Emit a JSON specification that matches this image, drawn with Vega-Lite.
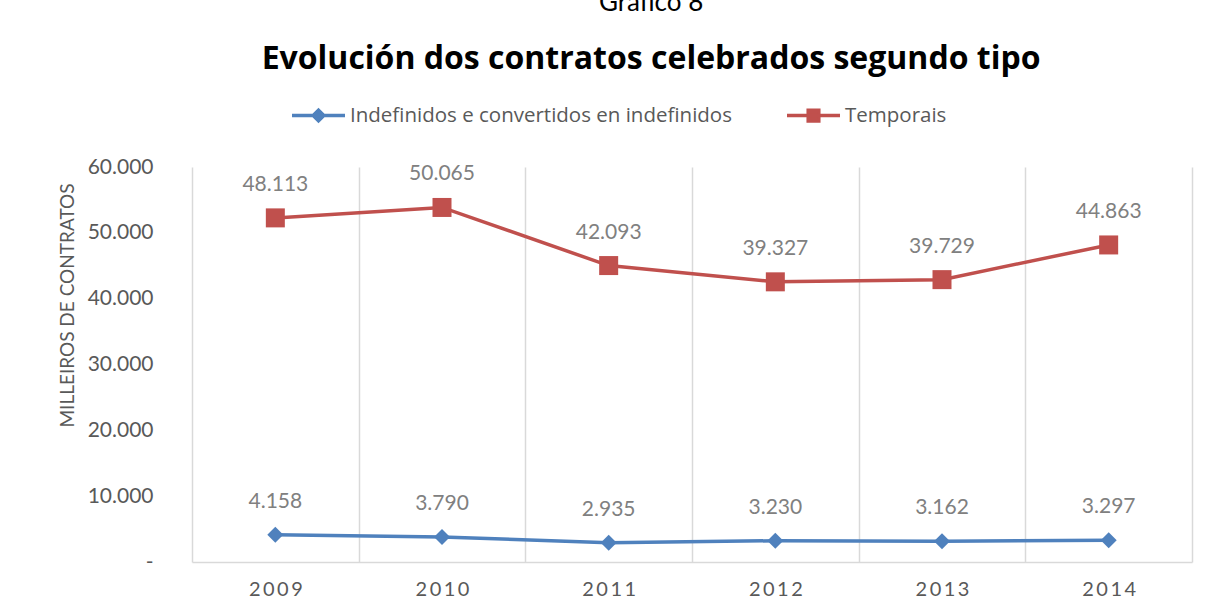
{
  "$schema": "https://vega.github.io/schema/vega-lite/v6.json",
  "width": 1000,
  "height": 395,
  "autosize": {"type": "none"},
  "padding": {"left": 192, "top": 167, "right": 17, "bottom": 50},
  "background": "white",
  "config": {
    "locale": {"number": {"decimal": ",", "thousands": ".", "grouping": [3], "currency": ["", " €"]}},
    "font": "Lato",
    "view": {"stroke": null}
  },
  "title": {
    "text": "Gráfico 8",
    "subtitle": "Evolución dos contratos celebrados segundo tipo",
    "anchor": "middle",
    "frame": "bounds",
    "dx": 26,
    "font": "Lato",
    "fontSize": 26,
    "fontWeight": "normal",
    "color": "black",
    "subtitleFont": "Open Sans",
    "subtitleFontSize": 32,
    "subtitleFontWeight": "bold",
    "subtitleColor": "black",
    "subtitlePadding": 28,
    "offset": 12
  },
  "data": {
    "values": [
      {"ano": "2009", "serie": "Indefinidos e convertidos en indefinidos", "contratos": 4158},
      {"ano": "2010", "serie": "Indefinidos e convertidos en indefinidos", "contratos": 3790},
      {"ano": "2011", "serie": "Indefinidos e convertidos en indefinidos", "contratos": 2935},
      {"ano": "2012", "serie": "Indefinidos e convertidos en indefinidos", "contratos": 3230},
      {"ano": "2013", "serie": "Indefinidos e convertidos en indefinidos", "contratos": 3162},
      {"ano": "2014", "serie": "Indefinidos e convertidos en indefinidos", "contratos": 3297},
      {"ano": "2009", "serie": "Temporais", "contratos": 48113},
      {"ano": "2010", "serie": "Temporais", "contratos": 50065},
      {"ano": "2011", "serie": "Temporais", "contratos": 42093},
      {"ano": "2012", "serie": "Temporais", "contratos": 39327},
      {"ano": "2013", "serie": "Temporais", "contratos": 39729},
      {"ano": "2014", "serie": "Temporais", "contratos": 44863}
    ]
  },
  "encoding": {
    "x": {
      "field": "ano",
      "type": "ordinal",
      "bandPosition": 0.5,
      "scale": {"type": "band", "paddingInner": 0, "paddingOuter": 0},
      "axis": {
        "title": null,
        "labelAngle": 0,
        "labelFont": "Lato",
        "labelFontSize": 20,
        "labelColor": "#595959",
        "labelPadding": 17,
        "ticks": false,
        "tickSize": 0,
        "domain": true,
        "domainColor": "#d9d9d9",
        "domainWidth": 1.5,
        "grid": true,
        "gridColor": "#d9d9d9",
        "gridWidth": 1.5,
        "tickBand": "extent",
        "labelExpr": "join(split(datum.label, ''), '\u2009')"
      }
    },
    "y": {
      "field": "contratos",
      "type": "quantitative",
      "stack": "zero",
      "scale": {"domain": [0, 60000], "nice": false},
      "axis": {
        "title": "MILLEIROS DE CONTRATOS",
        "titleFont": "Lato",
        "titleFontSize": 19,
        "titleFontWeight": "normal",
        "titleColor": "#595959",
        "titlePadding": 10,
        "titleY": 138,
        "labelFont": "Lato",
        "labelFontSize": 21,
        "labelColor": "#595959",
        "labelPadding": 39,
        "ticks": false,
        "tickSize": 0,
        "domain": false,
        "grid": false,
        "values": [0, 10000, 20000, 30000, 40000, 50000, 60000],
        "format": ",d",
        "labelExpr": "datum.value === 0 ? '-' : datum.label"
      }
    },
    "color": {
      "field": "serie",
      "type": "nominal",
      "scale": {
        "domain": ["Indefinidos e convertidos en indefinidos", "Temporais"],
        "range": ["#4F81BD", "#C0504D"]
      },
      "legend": {
        "orient": "none",
        "legendX": 98,
        "legendY": -80,
        "direction": "horizontal",
        "title": null,
        "labelFont": "Open Sans",
        "labelFontSize": 20.5,
        "labelColor": "#595959",
        "labelLimit": 0,
        "symbolSize": 2809,
        "columnPadding": 48,
        "labelOffset": 3,
        "symbolStrokeWidth": 3.5,
        "encode": {
          "symbols": {
            "update": {
              "shape": {"signal": "datum.value === 'Temporais' ? 'M-1,0H1M-0.2,-0.2H0.2V0.2H-0.2Z' : 'M-1,0H1M0,-0.2L0.2,0L0,0.2L-0.2,0Z'"},
              "fill": {"scale": "color", "field": "value"},
              "stroke": {"scale": "color", "field": "value"},
              "strokeWidth": {"value": 3.5},
              "opacity": {"value": 1}
            }
          }
        }
      }
    }
  },
  "layer": [
    {
      "mark": {"type": "line", "strokeWidth": 3.5},
      "encoding": {"order": {"field": "ano", "type": "ordinal", "sort": "ascending"}}
    },
    {
      "mark": {"type": "point", "filled": true, "opacity": 1},
      "encoding": {
        "order": {"field": "serie", "type": "nominal", "sort": "ascending"},
        "shape": {"condition": {"test": "datum.serie === 'Temporais'", "value": "square"}, "value": "diamond"},
        "size": {"condition": {"test": "datum.serie === 'Temporais'", "value": 361}, "value": 256}
      }
    },
    {
      "mark": {"type": "text", "dy": -27, "baseline": "alphabetic", "font": "Lato", "fontSize": 21},
      "encoding": {
        "order": {"field": "serie", "type": "nominal", "sort": "ascending"},
        "text": {"field": "contratos", "type": "quantitative", "format": ",d"},
        "color": {"value": "#808080"},
        "detail": {"field": "serie", "type": "nominal"}
      }
    }
  ]
}
